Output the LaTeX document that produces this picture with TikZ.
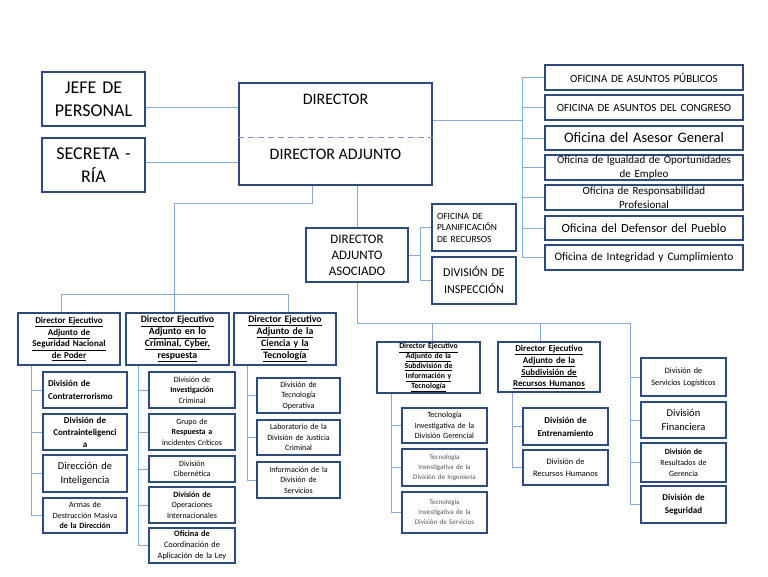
\documentclass[tikz,border=0pt]{standalone}
\usepackage{fontspec}
\setmainfont{Carlito}
\usetikzlibrary{backgrounds}
\definecolor{bxc}{HTML}{2F4B7C}
\definecolor{lnc}{HTML}{8DA9D1}
\definecolor{dsc}{HTML}{8396B0}
\definecolor{gtx}{HTML}{555555}
\tikzset{
  bx/.style={draw=bxc,line width=1.8pt,fill=white,inner sep=0pt},
  txt/.style={inner sep=0pt,align=center},
  ln/.style={draw=lnc,line width=1pt}
}
\newcommand\fz[2]{\fontsize{#1}{#2}\selectfont}
\newcommand\obox[6][]{%
  \pgfmathsetmacro\myW{#4-#2}\pgfmathsetmacro\myH{#5-#3}%
  \pgfmathsetmacro\myX{(#2+#4)/2}\pgfmathsetmacro\myY{(#3+#5)/2}%
  \pgfmathsetmacro\myT{#4-#2-4}%
  \node[bx,minimum width=\myW pt,minimum height=\myH pt] (#1) at (\myX,\myY) {};
  \node[txt,text width=\myT pt,#6] (#1t) at (#1.center) {\obtext};}
\newcommand\ul[1]{\underline{#1}}
\newcommand\bb[7]{\def\obtext{#7}\obox[#1]{#2}{#3}{#4}{#5}{#6}}
\begin{document}
\begin{tikzpicture}[x=1pt,y=-1pt]
\useasboundingbox (0,0) rectangle (768,576);

% top level
\bb{jefe}{42}{72}{145}{126}{font=\fz{18}{23}}{JEFE DE\\PERSONAL}
\bb{secr}{42}{138}{145}{192}{font=\fz{18}{23}}{SECRETA -\\RÍA}
\bb{dir}{239}{83}{432}{185}{}{}
\node[txt,font=\fz{16}{19}] (dirt) at (335.5,99) {DIRECTOR};
\node[txt,font=\fz{16}{19}] (dira) at (335.5,154) {DIRECTOR ADJUNTO};

% right offices
\bb{o1}{545}{65}{743}{90}{font=\fz{11}{13}}{OFICINA DE ASUNTOS PÚBLICOS}
\bb{o2}{545}{95}{743}{120}{font=\fz{11}{13}}{OFICINA DE ASUNTOS DEL CONGRESO}
\bb{o3}{545}{126}{743}{150}{font=\fz{14.5}{16}}{Oficina del Asesor General}
\bb{o4}{545}{155}{743}{180}{font=\fz{11}{14.5}}{Oficina de Igualdad de Oportunidades\\de Empleo}
\bb{o5}{545}{185}{743}{210}{font=\fz{11}{14.5}}{Oficina de Responsabilidad\\Profesional}
\bb{o6}{545}{216}{743}{240}{font=\fz{12.5}{14}}{Oficina del Defensor del Pueblo}
\bb{o7}{545}{245}{743}{270}{font=\fz{11.5}{13}}{Oficina de Integridad y Cumplimiento}

% associate director
\bb{daa}{306}{228}{408}{282}{font=\fz{13}{16}}{DIRECTOR\\ADJUNTO\\ASOCIADO}
\bb{opr}{432}{204}{516}{251}{font=\fz{9.5}{11.5},align=left,xshift=3pt}{OFICINA DE\\PLANIFICACIÓN\\DE RECURSOS}
\bb{divi}{432}{257}{516}{304}{font=\fz{12}{17}}{DIVISIÓN DE\\INSPECCIÓN}

% executive assistant directors (left)
\bb{a}{18}{313}{120}{365}{font=\fz{9}{11.6}\bfseries}{\ul{Director Ejecutivo}\\\ul{Adjunto de}\\\ul{Seguridad Nacional}\\\ul{de Poder}}
\bb{b}{126}{313}{229}{365}{font=\fz{9.8}{12}\bfseries}{\ul{Director Ejecutivo}\\\ul{Adjunto en lo}\\\ul{Criminal, Cyber,}\\\ul{respuesta}}
\bb{c}{234}{313}{336}{365}{font=\fz{9.8}{12}\bfseries}{\ul{Director Ejecutivo}\\\ul{Adjunto de la}\\\ul{Ciencia y la}\\\ul{Tecnología}}

\bb{a1}{43}{372}{127}{408}{font=\fz{9}{13}\bfseries,align=left,xshift=3pt}{División de\\Contraterrorismo}
\bb{a2}{43}{414}{127}{450}{font=\fz{9}{12}\bfseries}{División de\\Contrainteligenci\\a}
\bb{a3}{43}{455}{127}{492}{font=\fz{10.5}{14}}{Dirección de\\Inteligencia}
\bb{a4}{43}{498}{127}{533}{font=\fz{8}{10.5}}{Armas de\\Destrucción Masiva\\\bfseries de la Dirección}

\bb{b1}{149}{372}{235}{408}{font=\fz{8}{10.5}}{División de\\\textbf{Investigación}\\Criminal}
\bb{b2}{149}{414}{235}{450}{font=\fz{8}{10.5}}{Grupo de\\\textbf{Respuesta a}\\incidentes Críticos}
\bb{b3}{149}{456}{235}{482}{font=\fz{8}{10.5}}{División\\Cibernética}
\bb{b4}{149}{487}{235}{523}{font=\fz{8}{10.5}}{\textbf{División de}\\Operaciones\\Internacionales}
\bb{b5}{149}{528}{235}{563}{font=\fz{8.3}{10.8}}{\textbf{Oficina de}\\Coordinación de\\Aplicación de la Ley}

\bb{c1}{257}{378}{340}{413}{font=\fz{8}{10.5}}{División de\\Tecnología\\Operativa}
\bb{c2}{257}{420}{340}{455}{font=\fz{8}{10.5}}{Laboratorio de la\\División de Justicia\\Criminal}
\bb{c3}{257}{462}{340}{498}{font=\fz{8}{10.5}}{Información de la\\División de\\Servicios}

% executive assistant directors (right)
\bb{d}{377}{342}{480}{393}{font=\fz{7.8}{9.8}\bfseries}{\ul{Director Ejecutivo}\\\ul{Adjunto de la}\\\ul{Subdivisión de}\\\ul{Información y}\\\ul{Tecnología}}
\bb{e}{498}{342}{600}{392}{font=\fz{9}{11.8}\bfseries}{\ul{Director Ejecutivo}\\\ul{Adjunto de la}\\\ul{Subdivisión de}\\\ul{Recursos Humanos}}

\bb{d1}{402}{408}{487}{443}{font=\fz{8}{10.5}}{Tecnología\\Investigativa de la\\División Gerencial}
\bb{d2}{402}{449}{487}{486}{font=\fz{7}{10},text=gtx}{Tecnología\\Investigativa de la\\División de Ingeniería}
\bb{d3}{402}{492}{487}{533}{font=\fz{7}{10},text=gtx}{Tecnología\\Investigativa de la\\División de Servicios}

\bb{e1}{523}{408}{608}{445}{font=\fz{9}{13}\bfseries}{División de\\Entrenamiento}
\bb{e2}{523}{450}{608}{485}{font=\fz{8.3}{11.5}}{División de\\Recursos Humanos}

\bb{f1}{641}{358}{726}{396}{font=\fz{8.2}{12}}{División de\\Servicios Logísticos}
\bb{f2}{641}{402}{726}{438}{font=\fz{10.5}{14}}{División\\Financiera}
\bb{f3}{641}{443}{726}{482}{font=\fz{8}{11}}{\textbf{División de}\\Resultados de\\Gerencia}
\bb{f4}{641}{486}{726}{523}{font=\fz{9}{13}\bfseries}{División de\\Seguridad}

% connectors
\begin{scope}[on background layer]
\coordinate (jy) at (0,107);
\coordinate (sy) at (0,162);
\draw[ln] (jefe.east |- jy) -- (dir.west |- jy);
\draw[ln] (secr.east |- sy) -- (dir.west |- sy);

\coordinate (rs) at (522,120);
\draw[ln] (dir.east |- rs) -- (rs);
\draw[ln] (rs |- o1.west) -- (rs |- o7.west);
\foreach \i in {1,...,7} \draw[ln] (rs |- o\i.west) -- (o\i.west);

\draw[ln] (dir.south -| daa.north) -- (daa.north);
\coordinate (ds) at (420,0);
\draw[ln] (daa.east) -- (daa.east -| ds);
\draw[ln] (ds |- opr.west) -- (ds |- divi.west);
\draw[ln] (ds |- opr.west) -- (opr.west);
\draw[ln] (ds |- divi.west) -- (divi.west);

\coordinate (j1) at (312,203);
\coordinate (j2) at (174,203);
\draw[ln] (dir.south -| j1) -- (j1) -- (j2) -- (b.north -| j2);
\coordinate (h1) at (61,294);
\coordinate (h2) at (288,294);
\draw[ln] (a.north -| h1) -- (h1) -- (h2) -- (c.north -| h2);

\coordinate (mr) at (630,323);
\coordinate (k1) at (432,323);
\coordinate (k2) at (540,323);
\draw[ln] (daa.south) -- (daa.south |- mr) -- (mr) -- (mr |- f4.west);
\draw[ln] (k1) -- (d.north -| k1);
\draw[ln] (k2) -- (e.north -| k2);
\foreach \i in {1,...,4} \draw[ln] (mr |- f\i.west) -- (f\i.west);

\coordinate (sa) at (31,0);
\draw[ln] (a.south -| sa) -- (sa |- a4.west);
\foreach \i in {1,...,4} \draw[ln] (sa |- a\i.west) -- (a\i.west);
\coordinate (sb) at (138,0);
\draw[ln] (b.south -| sb) -- (sb |- b5.west);
\foreach \i in {1,...,5} \draw[ln] (sb |- b\i.west) -- (b\i.west);
\coordinate (sc) at (247,0);
\draw[ln] (c.south -| sc) -- (sc |- c3.west);
\foreach \i in {1,...,3} \draw[ln] (sc |- c\i.west) -- (c\i.west);
\coordinate (sd) at (391,0);
\draw[ln] (d.south -| sd) -- (sd |- d3.west);
\foreach \i in {1,...,3} \draw[ln] (sd |- d\i.west) -- (d\i.west);
\coordinate (se) at (512,0);
\draw[ln] (e.south -| se) -- (se |- e2.west);
\foreach \i in {1,...,2} \draw[ln] (se |- e\i.west) -- (e\i.west);
\end{scope}

% dashed divider inside director box
\coordinate (dy) at (0,137);
\draw[dsc,line width=1pt,dash pattern=on 6pt off 4pt] (dir.west |- dy) -- (dir.east |- dy);
\end{tikzpicture}
\end{document}
